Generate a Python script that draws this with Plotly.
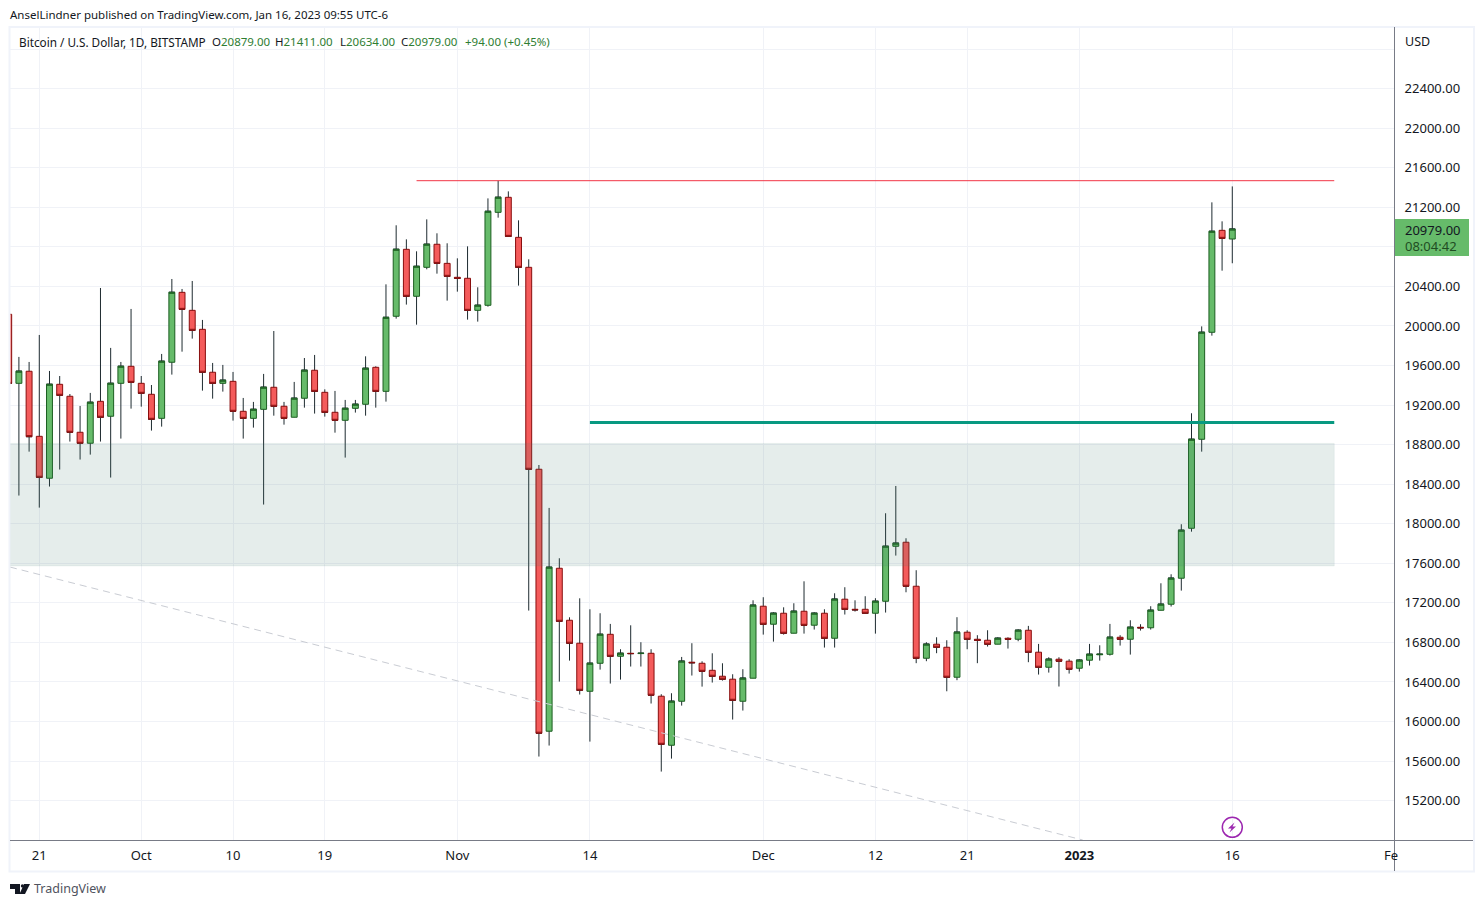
import pandas as pd
import plotly.graph_objects as go

W, H = 1484, 907
dates = pd.date_range("2022-09-18", "2023-01-16", freq="D").strftime("%Y-%m-%d").tolist()

opens = [20118,19420,19542,18884,18460,19410,19289,18925,18814,19238,19087,19420,19592,
19420,19309,19066,19633,20340,20158,19966,19532,19420,19440,19137,19066,19157,19380,19188,19077,19269,19552,19329,19127,19046,19167,19208,19582,19339,20098,20775,20300,20593,20826,20633,
20492,20482,20158,20209,21149,21301,20896,20593,18551,15902,17550,17024,16792,16306,16589,16882,16660,16690,16687,16690,16256,15760,16205,16600,16589,16518,16458,16428,16205,16438,
17166,16984,17095,16893,17115,16974,17095,16842,17237,17135,17135,17095,17216,17772,17813,17368,16640,16782,16751,16448,16903,16832,16822,16782,16842,16832,16923,16701,16549,16630,16610,16539,
16620,16675,16680,16852,16832,16953,16948,17125,17186,17449,17954,18854,19936,20967,20879]
highs = [20118,19687,19636,19909,19545,19494,19312,19191,19323,20384,19778,19636,20172,
19494,19403,19717,20475,20374,20455,20061,19626,19606,19535,19272,19232,19515,19949,19232,19434,19676,19707,19359,19343,19252,19252,19693,19592,20421,21018,20876,20755,21078,20937,20836,
20684,20805,20391,21290,21469,21361,21068,20674,18594,18160,17651,17054,17246,17135,17095,16987,16731,16973,16802,16731,16276,16286,16653,16792,16609,16690,16589,16478,16529,17226,
17257,17105,17155,17196,17418,17105,17135,17297,17358,17226,17267,17247,18106,18382,17853,17530,16802,16852,16822,17055,16923,16873,16923,16852,16852,16933,16967,16785,16650,16650,16630,16630,
16785,16771,16987,16873,17024,16984,17166,17398,17489,17995,19117,19996,21250,21058,21411]
lows = [19400,18285,18729,18163,18376,18548,18831,18649,18699,18831,18467,18861,19164,
19184,18942,18982,19508,19740,19872,19346,19265,19336,19043,18861,18972,18194,19093,19002,19077,19174,19114,19083,18921,18669,19124,19093,19174,19235,20074,20216,20013,20573,20529,20256,
20347,20064,20044,20195,21095,20906,20408,17122,15646,15757,16404,16616,16273,15797,16525,16384,16424,16556,16556,16182,15494,15625,16161,16465,16353,16394,16414,16020,16111,16438,
16879,16808,16879,16893,16889,16930,16748,16748,17082,17112,17095,16889,17102,17678,17307,16590,16610,16691,16306,16418,16731,16590,16758,16782,16738,16812,16600,16475,16495,16354,16485,16505,
16566,16616,16667,16768,16677,16920,16930,17125,17163,17324,17920,18729,19902,20559,20634]
closes = [19420,19542,18881,18470,19410,19299,18925,18814,19228,19077,19420,19592,19430,
19319,19056,19643,20340,20168,19956,19532,19420,19451,19137,19066,19157,19380,19188,19066,19269,19552,19339,19127,19046,19167,19208,19572,19339,20087,20775,20300,20603,20826,20633,20502,
20482,20158,20209,21159,21301,20906,20593,18551,15882,17560,17014,16792,16316,16589,16882,16660,16690,16687,16690,16266,15770,16205,16610,16595,16508,16458,16428,16215,16438,17176,
16984,17095,16893,17115,16973,17095,16842,17237,17135,17130,17095,17216,17772,17803,17368,16640,16782,16751,16448,16903,16832,16822,16782,16842,16832,16923,16701,16549,16630,16610,16529,16620,
16680,16680,16852,16832,16953,16948,17125,17186,17449,17934,18854,19936,20957,20886,20979]

body_high = [max(o, c) for o, c in zip(opens, closes)]
body_low = [min(o, c) for o, c in zip(opens, closes)]

price_ticks = list(range(14800, 23000, 400))
price_hidden = {14800, 20800, 22800}
price_labels = ["" if p in price_hidden else f"{p}.00" for p in price_ticks]
date_ticks = ["2022-09-21","2022-10-01","2022-10-10","2022-10-19","2022-11-01","2022-11-14",
              "2022-12-01","2022-12-12","2022-12-21","2023-01-01","2023-01-16"]
date_labels = ["21","Oct","10","19","Nov","14","Dec","12","21","<b>2023</b>","16"]

resistance_level = 21469
support_level = 19024
zone_top, zone_bottom = 18812, 17573
resistance_start, support_start, levels_end = "2022-10-28", "2022-11-14", "2023-01-26"
trend_start = ("2022-09-18 03:00", 17562)
trend_end = ("2023-01-01 08:00", 14802)
x_range = ["2022-09-18 03:03", "2023-01-31 20:38"]
y_range = [14802, 23013]

FONT = "Noto Sans"
INK = "#131722"
GRID = "#f0f2f7"
FRAME = "#f0f3fa"
AXIS = "#787b86"
UP_FILL, UP_EDGE = "#66bb6a", "#1b5e20"
DN_FILL, DN_EDGE = "#f45b5b", "#880e0e"
WICK = "#1e2b30"
TXT_GREEN = "#2e7d32"

PL, PR, PT, PB = 10, 1394, 28, 840

def px(x): return x / W
def py(y): return 1 - y / H

fig = go.Figure()
fig.add_trace(go.Candlestick(
    x=dates, open=closes, high=highs, low=lows, close=closes, whiskerwidth=0,
    increasing=dict(line=dict(color=WICK, width=1), fillcolor="rgba(0,0,0,0)"),
    decreasing=dict(line=dict(color=WICK, width=1), fillcolor="rgba(0,0,0,0)"),
    showlegend=False, hoverinfo="skip"))
fig.add_trace(go.Candlestick(
    x=dates, open=opens, high=body_high, low=body_low, close=closes, whiskerwidth=0,
    increasing=dict(line=dict(color=UP_EDGE, width=1), fillcolor=UP_FILL),
    decreasing=dict(line=dict(color=DN_EDGE, width=1), fillcolor=DN_FILL),
    showlegend=False))

shapes = [
    dict(type="rect", xref="x", yref="y", x0=x_range[0], x1=levels_end, y0=zone_bottom, y1=zone_top,
         fillcolor="rgba(68,128,115,0.14)", line=dict(color="rgba(68,128,115,0.07)", width=1), layer="above"),
    dict(type="line", xref="x", yref="y", x0=resistance_start, x1=levels_end, y0=resistance_level, y1=resistance_level,
         line=dict(color="#f23645", width=1), layer="above"),
    dict(type="line", xref="x", yref="y", x0=support_start, x1=levels_end, y0=support_level, y1=support_level,
         line=dict(color="#089981", width=3), layer="above"),
    dict(type="line", xref="x", yref="y", x0=trend_start[0], y0=trend_start[1], x1=trend_end[0], y1=trend_end[1],
         line=dict(color="#c9ccd3", width=1, dash="7px,5px"), layer="above"),
]
def chrome_rect(x0, y0, x1, y1, **kw):
    return dict(type="rect", xref="paper", yref="paper", x0=px(x0), x1=px(x1), y0=py(y0), y1=py(y1), layer="above", **kw)
def chrome_line(x0, y0, x1, y1, color, width=1):
    return dict(type="line", xref="paper", yref="paper", x0=px(x0), x1=px(x1), y0=py(y0), y1=py(y1),
                line=dict(color=color, width=width), layer="above")
def chrome_path(points, fill):
    d = "M" + " L".join(f"{px(x):.5f},{py(y):.5f}" for x, y in points) + " Z"
    return dict(type="path", xref="paper", yref="paper", path=d, fillcolor=fill, line=dict(width=0), layer="above")

shapes += [
    chrome_rect(9.5, 27, 1474, 871.5, line=dict(color=FRAME, width=2)),
    chrome_line(10, 840.5, 1473, 840.5, AXIS),
    chrome_line(1394.5, 27, 1394.5, 871, AXIS),
    chrome_rect(1395, 219, 1469, 256, fillcolor=UP_FILL, line=dict(width=0)),
    chrome_rect(1222.3, 817.3, 1242.3, 837.3, line=dict(color="#9c27b0", width=1.5)) | {"type": "circle"},
    chrome_path([(1234.5,822.5),(1228,828.5),(1231.5,828.5),(1229.5,832.5),(1236,826.5),(1232.5,826.5)], "#9c27b0"),
    chrome_path([(10,884),(20,884),(20,894),(15,894),(15,889),(10,889)], INK),
    chrome_path([(24,884),(30,884),(25,894),(19.5,894)], INK),
    chrome_rect(20.8, 884.3, 24, 887.5, fillcolor=INK, line=dict(width=0)) | {"type": "circle"},
]

def text(x, y, s, size=11.5, color=INK, anchor="left"):
    return dict(xref="paper", yref="paper", x=px(x), y=py(y), text=s, showarrow=False, xanchor=anchor,
                yanchor="middle", align="left", font=dict(family=FONT, size=size, color=color),
                xshift=0, yshift=0, borderpad=0)

annotations = [
    text(9, 14.5, "AnselLindner published on TradingView.com, Jan 16, 2023 09:55 UTC-6"),
    text(17.5, 41.5, "Bitcoin / U.S. Dollar, 1D, BITSTAMP", size=11.75),
    text(211, 41.5, f"O<span style='color:{TXT_GREEN}'>20879.00</span>"),
    text(274, 41.5, f"H<span style='color:{TXT_GREEN}'>21411.00</span>"),
    text(339, 41.5, f"L<span style='color:{TXT_GREEN}'>20634.00</span>"),
    text(400, 41.5, f"C<span style='color:{TXT_GREEN}'>20979.00</span>"),
    text(464, 41.5, "+94.00 (+0.45%)", color=TXT_GREEN),
    text(1403.5, 42, "USD", size=12.5),
    text(1404, 230, "20979.00", size=13),
    text(1404, 246, "08:04:42", size=13, color="#1f4d22"),
    text(1382.5, 854.5, "Fe", size=13),
    text(32.5, 888.5, "TradingView", size=12.5, color="#50535e"),
]

fig.update_layout(
    width=W, height=H, margin=dict(l=0, r=0, t=0, b=0, autoexpand=False),
    paper_bgcolor="white", plot_bgcolor="white", showlegend=False, boxgap=0.42, boxgroupgap=0,
    shapes=shapes, annotations=annotations, hovermode=False,
    xaxis=dict(domain=[px(PL), px(PR)], range=x_range, type="date", rangeslider=dict(visible=False),
               tickmode="array", tickvals=date_ticks, ticktext=date_labels,
               showgrid=True, gridcolor=GRID, gridwidth=1, zeroline=False, showline=False,
               ticks="outside", ticklen=3, tickcolor="rgba(0,0,0,0)",
               tickfont=dict(family=FONT, size=13, color=INK)),
    yaxis=dict(domain=[py(PB), py(PT)], range=y_range, side="right", tickmode="array",
               tickvals=price_ticks, ticktext=price_labels,
               showgrid=True, gridcolor=GRID, gridwidth=1, zeroline=False, showline=False,
               ticks="outside", ticklen=7, tickcolor="rgba(0,0,0,0)",
               tickfont=dict(family=FONT, size=13, color=INK)),
)
assert len(dates) == len(opens) == len(highs) == len(lows) == len(closes)
fig.write_html("out.html", config=dict(displayModeBar=False),
               post_script="document.body.style.margin='0';window.dispatchEvent(new Event('resize'));")
